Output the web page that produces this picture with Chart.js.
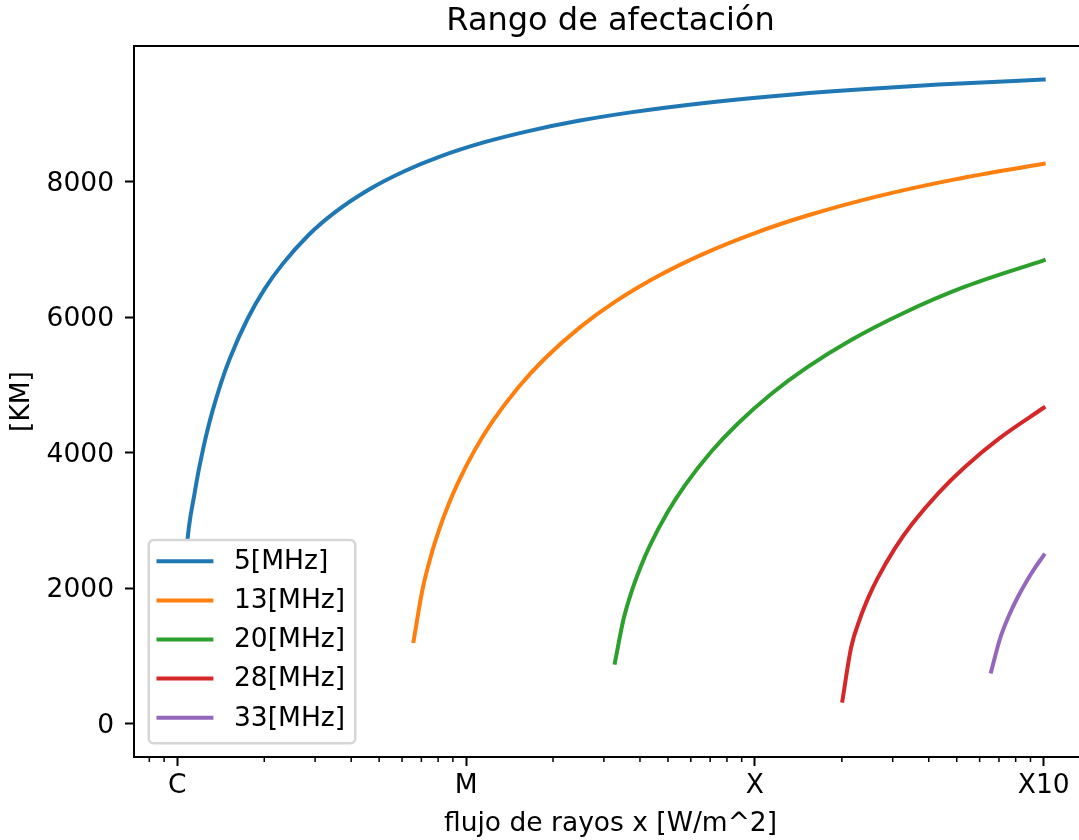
<!DOCTYPE html>
<html>
<head>
<meta charset="utf-8">
<title>Rango de afectación</title>
<script src="https://cdn.jsdelivr.net/npm/chart.js@4.4.1/dist/chart.umd.min.js"></script>
<style>
  html, body { margin: 0; padding: 0; background: #fff; overflow: hidden; }
  #wrap { width: 1100px; height: 840px; }
</style>
</head>
<body>
<div id="wrap"><canvas id="grafico" width="1100" height="840"></canvas></div>
<script>
// flujo de rayos X [W/m^2] y alcance [km] para cada frecuencia
var flujo5 = [1e-6, 1.07227e-6, 1.14975e-6, 1.23285e-6, 1.32194e-6, 1.41747e-6, 1.51991e-6, 1.74753e-6,
  2.00923e-6, 2.31013e-6, 2.84804e-6, 3.51119e-6, 4.64159e-6, 6.13591e-6, 8.11131e-6, 1.14975e-5,
  1.62975e-5, 2.47708e-5, 3.76494e-5, 6.57933e-5, 1.14975e-4, 2.15443e-4, 4.32876e-4, 1e-3];
var km5 = [0, 2485, 3423, 4087, 4607, 5033, 5392, 5971, 6422, 6781, 7215, 7549, 7894, 8160, 8372, 8581,
  8745, 8904, 9029, 9161, 9264, 9355, 9435, 9510];

var flujo13 = [6.57933e-6, 7.05480e-6, 7.56463e-6, 8.11131e-6, 8.69749e-6, 9.32603e-6, 1.07227e-5,
  1.23285e-5, 1.51991e-5, 1.87382e-5, 2.47708e-5, 3.27455e-5, 4.64159e-5, 6.57933e-5, 1e-4,
  1.51991e-4, 2.65609e-4, 4.97702e-4, 1e-3];
var km13 = [1220, 1970, 2485, 2894, 3239, 3538, 4042, 4459, 4972, 5392, 5851, 6227, 6612, 6929, 7243,
  7502, 7785, 8040, 8267];

var flujo20 = [3.27455e-5, 3.51119e-5, 3.76494e-5, 4.03702e-5, 4.32876e-5, 4.97702e-5, 5.72237e-5,
  7.05480e-5, 8.69749e-5, 1.14975e-4, 1.51991e-4, 2.15443e-4, 3.27455e-4, 5.33670e-4, 1e-3];
var km20 = [900, 1548, 1985, 2333, 2627, 3116, 3517, 4014, 4425, 4882, 5264, 5665, 6064, 6451, 6841];

var flujo28 = [2.00923e-4, 2.15443e-4, 2.31013e-4, 2.47708e-4, 2.65609e-4, 3.05386e-4, 3.51119e-4,
  4.32876e-4, 5.33670e-4, 7.05480e-4, 1e-3];
var km28 = [341, 1126, 1548, 1872, 2142, 2588, 2954, 3409, 3790, 4219, 4664];

var flujo33 = [6.57933e-4, 7.05480e-4, 7.56463e-4, 8.11131e-4, 8.69749e-4, 9.32603e-4, 1e-3];
var km33 = [769, 1250, 1586, 1859, 2092, 2299, 2485];

var frecuencias = ['5[MHz]', '13[MHz]', '20[MHz]', '28[MHz]', '33[MHz]'];
var colores = ['#1f77b4', '#ff7f0e', '#2ca02c', '#d62728', '#9467bd'];

var ticksX = [1e-6, 1e-5, 1e-4, 1e-3];
var etiquetasX = ['C', 'M', 'X', 'X10'];
var ticksMenoresX = [8e-7, 9e-7,
  2e-6, 3e-6, 4e-6, 5e-6, 6e-6, 7e-6, 8e-6, 9e-6,
  2e-5, 3e-5, 4e-5, 5e-5, 6e-5, 7e-5, 8e-5, 9e-5,
  2e-4, 3e-4, 4e-4, 5e-4, 6e-4, 7e-4, 8e-4, 9e-4];
var ticksY = [0, 2000, 4000, 6000, 8000];

function puntos(xs, ys) {
  return xs.map(function(x, i) { return { x: x, y: ys[i] }; });
}

var series = [
  puntos(flujo5, km5),
  puntos(flujo13, km13),
  puntos(flujo20, km20),
  puntos(flujo28, km28),
  puntos(flujo33, km33)
];

var datasets = series.map(function(d, i) {
  return {
    label: frecuencias[i],
    data: d,
    borderColor: colores[i],
    backgroundColor: colores[i],
    borderWidth: 4,
    borderCapStyle: 'square',
    borderJoinStyle: 'round',
    cubicInterpolationMode: 'monotone',
    pointRadius: 0,
    fill: false
  };
});

// marco superior/derecho, ticks menores y leyenda estilo matplotlib
var marco = {
  id: 'marco',
  afterDraw: function(chart) {
    var ctx = chart.ctx, a = chart.chartArea;
    var sx = chart.scales.x;
    ctx.save();
    ctx.strokeStyle = '#000';
    ctx.lineWidth = 2;
    ctx.beginPath();
    ctx.moveTo(a.left - 1, a.top);
    ctx.lineTo(a.right + 1, a.top);
    ctx.moveTo(a.right, a.top);
    ctx.lineTo(a.right, a.bottom);
    ctx.stroke();

    ctx.lineWidth = 1.5;
    ctx.beginPath();
    ticksMenoresX.forEach(function(v) {
      var px = sx.getPixelForValue(v);
      ctx.moveTo(px, a.bottom);
      ctx.lineTo(px, a.bottom + 5);
    });
    ctx.stroke();

    // leyenda
    var bx = a.left + 14.7, bw = 206.6, bh = 203.3;
    var by = a.bottom - 13.7 - bh;
    ctx.beginPath();
    ctx.roundRect(bx, by, bw, bh, 5);
    ctx.fillStyle = '#fff';
    ctx.fill();
    ctx.lineWidth = 2.5;
    ctx.strokeStyle = '#d6d6d6';
    ctx.stroke();

    ctx.font = '26.5px "DejaVu Sans"';
    ctx.textBaseline = 'middle';
    ctx.textAlign = 'left';
    chart.data.datasets.forEach(function(ds, i) {
      var ly = by + 21.3 + i * 39.1;
      ctx.beginPath();
      ctx.strokeStyle = ds.borderColor;
      ctx.lineWidth = 4;
      ctx.lineCap = 'square';
      ctx.moveTo(bx + 9.8, ly);
      ctx.lineTo(bx + 62.7, ly);
      ctx.stroke();
      ctx.fillStyle = '#000';
      ctx.fillText(ds.label, bx + 85.3, ly + 1);
    });
    ctx.restore();
  }
};

Chart.defaults.font.family = '"DejaVu Sans"';
Chart.defaults.color = '#000';

var ctx = document.getElementById('grafico').getContext('2d');
window.grafico = new Chart(ctx, {
  type: 'line',
  data: { datasets: datasets },
  options: {
    responsive: false,
    animation: false,
    devicePixelRatio: 1,
    layout: { padding: { left: 0, right: 13, top: 0, bottom: 0 } },
    plugins: {
      legend: { display: false },
      tooltip: { enabled: false },
      title: {
        display: true,
        text: 'Rango de afectación',
        fullSize: false,
        color: '#000',
        font: { size: 32, weight: 'normal', lineHeight: 1.2 },
        padding: { top: 2, bottom: 5.6 }
      }
    },
    scales: {
      x: {
        type: 'logarithmic',
        position: 'bottom',
        min: 7.0795e-7,
        max: 1.41254e-3,
        bounds: 'data',
        afterBuildTicks: function(axis) {
          axis.ticks = ticksX.map(function(v) { return { value: v }; });
        },
        afterFit: function(axis) { axis.height = 83; },
        grid: {
          drawOnChartArea: false,
          drawTicks: true,
          tickLength: 9,
          tickWidth: 2,
          tickColor: '#000'
        },
        border: { display: true, color: '#000', width: 2 },
        ticks: {
          autoSkip: false,
          maxRotation: 0,
          padding: 4,
          font: { size: 26.5 },
          color: '#000',
          callback: function(v, i) { return etiquetasX[i]; }
        },
        title: {
          display: true,
          text: 'flujo de rayos x [W/m^2]',
          color: '#000',
          font: { size: 26.5, lineHeight: 1.2 },
          padding: { top: 0, bottom: 0 }
        }
      },
      y: {
        type: 'linear',
        min: -492,
        max: 10005,
        afterBuildTicks: function(axis) {
          axis.ticks = ticksY.map(function(v) { return { value: v }; });
        },
        afterFit: function(axis) { axis.width = 134; },
        grid: {
          drawOnChartArea: false,
          drawTicks: true,
          tickLength: 9,
          tickWidth: 2,
          tickColor: '#000'
        },
        border: { display: true, color: '#000', width: 2 },
        ticks: {
          padding: 11,
          labelOffset: 2,
          font: { size: 26.5 },
          color: '#000',
          callback: function(v) { return String(v); }
        },
        title: {
          display: true,
          text: '[KM]',
          color: '#000',
          font: { size: 26.5, lineHeight: 1.2 },
          padding: { top: 6.6, bottom: 0 }
        }
      }
    }
  },
  plugins: [marco]
});
</script>
</body>
</html>
